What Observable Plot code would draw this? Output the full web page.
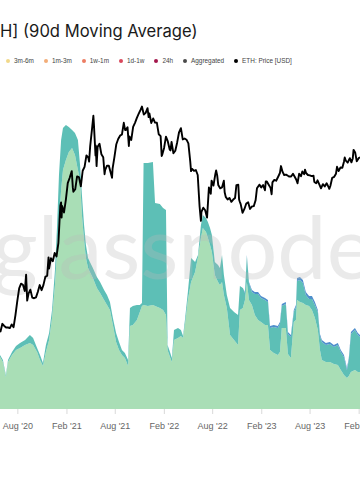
<!DOCTYPE html>
<html><head><meta charset="utf-8">
<script src="https://cdn.jsdelivr.net/npm/d3@7"></script>
<script src="https://cdn.jsdelivr.net/npm/@observablehq/plot@0.6"></script>
<style>
body{margin:0;background:#fff;width:360px;height:504px;overflow:hidden;position:relative;font-family:"Liberation Sans",Arial,sans-serif}
#title{position:absolute;left:0;top:20px;font-family:Inter,"Liberation Sans",sans-serif;font-size:16.6px;line-height:22px;color:#1a1a1a;white-space:nowrap}
#legend{position:absolute;left:6px;top:56px;display:flex;gap:10px;font-size:6.4px;line-height:10px;color:#444;align-items:center;white-space:nowrap}
.item{display:flex;align-items:center;gap:4px}
.dot{width:4px;height:4px;border-radius:50%}
#chart,#overlay{position:absolute;left:0;top:80px}
</style></head><body>
<div id="title"></div>
<div id="legend"></div>
<div id="chart"></div>
<div id="overlay"></div>
<script>
const titleText = "H] (90d Moving Average)";
const legendLabels = ["3m-6m","1m-3m","1w-1m","1d-1w","24h","Aggregated","ETH: Price [USD]"];
const legendColors = ["#f1d889","#f3ad78","#ec7d63","#d9475c","#a3164b","#4a4a4a","#000000"];

const tickDates = ["2020-08-01","2021-02-01","2021-08-01","2022-02-01","2022-08-01","2023-02-01","2023-08-01","2024-02-01"];
const xStart = "2020-05-28", xEnd = "2024-02-06";

const bandNames = ["band-green","band-teal","band-blue"];
const bandColors = ["#a9deb6","#5dbfb6","#4f8fcc"];

const bandDates = ["2020-05-28","2020-06-08","2020-06-19","2020-06-27","2020-07-12","2020-07-27","2020-08-11","2020-08-30","2020-09-17","2020-09-29",
"2020-10-14","2020-10-25","2020-11-05","2020-11-16","2020-11-28","2020-12-09","2020-12-20","2020-12-28","2021-01-04","2021-01-12",
"2021-01-19","2021-01-30","2021-02-10","2021-02-22","2021-03-05","2021-03-16","2021-03-24","2021-03-31","2021-04-08","2021-04-15",
"2021-04-23","2021-04-30","2021-05-11","2021-05-26","2021-06-07","2021-06-22","2021-07-03","2021-07-14","2021-07-25","2021-08-06",
"2021-08-17","2021-08-28","2021-09-08","2021-09-20","2021-09-27","2021-10-08","2021-10-23","2021-11-03","2021-11-11","2021-11-17",
"2021-12-03","2021-12-22","2021-12-30","2022-01-17","2022-01-29","2022-02-09","2022-02-15","2022-02-24","2022-03-03","2022-03-11",
"2022-03-26","2022-04-06","2022-04-14","2022-04-21","2022-05-02","2022-05-14","2022-05-29","2022-06-09","2022-06-20","2022-06-27",
"2022-07-09","2022-07-16","2022-07-24","2022-07-31","2022-08-11","2022-08-23","2022-08-30","2022-09-07","2022-09-14","2022-09-25",
"2022-10-07","2022-10-22","2022-11-06","2022-11-13","2022-11-24","2022-12-02","2022-12-09","2022-12-17","2022-12-28","2023-01-08",
"2023-01-20","2023-01-31","2023-02-15","2023-02-26","2023-03-06","2023-03-20","2023-04-04","2023-04-12","2023-04-19","2023-05-04",
"2023-05-12","2023-05-23","2023-06-03","2023-06-11","2023-06-15","2023-06-26","2023-07-07","2023-07-18","2023-07-30","2023-08-10",
"2023-08-21","2023-09-01","2023-09-09","2023-09-16","2023-10-01","2023-10-16","2023-10-31","2023-11-15","2023-11-26","2023-12-08",
"2023-12-19","2023-12-26","2024-01-03","2024-01-18","2024-01-29","2024-02-06"];

const greenBand = [52,47,32,47,54,59,61,64,66,64,
57,49,43,57,69,91,124,159,189,219,
239,249,257,261,254,239,229,194,169,151,
141,137,131,121,116,109,104,99,84,67,
59,54,51,43,83,84,89,97,103,104,
103,104,103,101,99,94,59,52,47,69,
71,73,71,84,109,127,137,152,171,181,
177,171,164,157,134,127,124,127,114,101,
74,69,64,99,101,109,127,109,104,94,
89,87,84,84,59,56,54,57,81,81,
55,51,87,89,109,107,106,104,103,99,
91,79,59,49,47,47,45,44,39,34,
31,33,37,39,37,37];

const tealBand = [2,2,2,2,3,4,5,5,8,7,
4,5,3,7,7,8,15,25,45,50,
42,35,25,18,22,30,15,20,15,13,
10,10,10,11,11,10,10,8,7,9,
8,5,5,6,18,19,15,7,3,142,
143,143,103,104,102,105,5,5,4,10,
10,6,2,5,8,24,10,2,13,13,
14,16,17,17,13,17,17,27,20,13,
27,28,30,24,20,7,26,17,13,21,
26,24,25,23,22,26,27,28,22,24,
20,21,10,13,19,22,20,10,7,11,
13,18,14,18,17,18,17,20,18,18,
8,16,38,40,37,35];

const blueBand = [0,0,0,0,0,0,0,0,0,0,
0,0,0,0,0,0,0,0,0,0,
0,0,0,0,0,0,0,0,0,0,
0,0,0,0,0,0,0,0,0,0,
0,0,0,0,0,0,0,0,0,0,
0,0,0,0,0,0,0,0,0,0,
0,0,0,0,0,0,0,0,0,0,
0,0,0,0,0,0,0,0,0,0,
0,0,0,0,0,1,1,1,2,2,
2,2,2,2,2,2,2,2,2,2,
2,2,2,2,3,3,3,3,3,3,
3,2,2,2,2,2,2,2,2,2,
2,2,2,2,2,2];

const priceDates = ["2020-05-28","2020-06-04","2020-06-11","2020-06-18","2020-06-25","2020-07-02","2020-07-09","2020-07-16","2020-07-23","2020-07-30",
"2020-08-06","2020-08-13","2020-08-20","2020-08-27","2020-09-01","2020-09-05","2020-09-10","2020-09-17","2020-09-24","2020-10-01",
"2020-10-08","2020-10-15","2020-10-22","2020-10-29","2020-11-05","2020-11-12","2020-11-19","2020-11-24","2020-11-26","2020-12-03",
"2020-12-10","2020-12-17","2020-12-24","2020-12-31","2021-01-07","2021-01-10","2021-01-12","2021-01-14","2021-01-21","2021-01-28",
"2021-02-04","2021-02-11","2021-02-19","2021-02-23","2021-02-25","2021-03-04","2021-03-11","2021-03-18","2021-03-25","2021-04-01",
"2021-04-08","2021-04-15","2021-04-22","2021-04-25","2021-04-29","2021-05-06","2021-05-11","2021-05-13","2021-05-19","2021-05-20",
"2021-05-23","2021-05-27","2021-06-03","2021-06-10","2021-06-17","2021-06-22","2021-06-24","2021-07-01","2021-07-08","2021-07-15",
"2021-07-20","2021-07-22","2021-07-29","2021-08-05","2021-08-12","2021-08-19","2021-08-26","2021-09-02","2021-09-07","2021-09-09",
"2021-09-16","2021-09-21","2021-09-23","2021-09-30","2021-10-07","2021-10-14","2021-10-21","2021-10-28","2021-11-04","2021-11-09",
"2021-11-16","2021-11-23","2021-11-30","2021-12-04","2021-12-07","2021-12-14","2021-12-21","2021-12-28","2022-01-04","2022-01-11",
"2022-01-18","2022-01-22","2022-01-24","2022-01-31","2022-02-07","2022-02-14","2022-02-21","2022-02-24","2022-02-28","2022-03-07",
"2022-03-14","2022-03-21","2022-03-28","2022-04-04","2022-04-11","2022-04-18","2022-04-25","2022-05-02","2022-05-09","2022-05-12",
"2022-05-16","2022-05-23","2022-05-30","2022-06-06","2022-06-13","2022-06-18","2022-06-20","2022-06-27","2022-07-04","2022-07-11",
"2022-07-18","2022-07-25","2022-07-28","2022-08-04","2022-08-11","2022-08-14","2022-08-18","2022-08-22","2022-08-29","2022-09-05",
"2022-09-12","2022-09-15","2022-09-19","2022-09-26","2022-10-03","2022-10-10","2022-10-17","2022-10-24","2022-10-29","2022-11-05",
"2022-11-08","2022-11-10","2022-11-14","2022-11-21","2022-11-28","2022-12-05","2022-12-12","2022-12-19","2022-12-26","2023-01-02",
"2023-01-09","2023-01-14","2023-01-23","2023-01-30","2023-02-06","2023-02-13","2023-02-16","2023-02-20","2023-02-27","2023-03-06",
"2023-03-10","2023-03-13","2023-03-20","2023-03-27","2023-04-03","2023-04-10","2023-04-14","2023-04-20","2023-04-26","2023-05-03",
"2023-05-10","2023-05-15","2023-05-22","2023-05-29","2023-06-05","2023-06-10","2023-06-15","2023-06-21","2023-06-28","2023-07-03",
"2023-07-10","2023-07-13","2023-07-17","2023-07-24","2023-07-31","2023-08-07","2023-08-14","2023-08-17","2023-08-24","2023-08-29",
"2023-09-05","2023-09-11","2023-09-18","2023-09-25","2023-10-02","2023-10-09","2023-10-12","2023-10-16","2023-10-23","2023-10-30",
"2023-11-06","2023-11-10","2023-11-16","2023-11-23","2023-11-30","2023-12-06","2023-12-09","2023-12-13","2023-12-20","2023-12-28",
"2024-01-03","2024-01-08","2024-01-11","2024-01-17","2024-01-23","2024-01-30","2024-02-06"];

const priceValues = [220,244,237,232,232,230,242,233,275,334,
396,422,416,382,477,335,368,389,349,346,
350,378,414,386,415,463,471,604,518,597,
573,641,612,737,1218,1280,1040,1218,1115,1330,
1665,1784,1960,1570,1480,1530,1825,1807,1592,1970,
2080,2430,2360,2230,2750,3490,4170,3720,2430,2780,
2100,2730,2850,2470,2370,1880,1990,2110,2110,1920,
1790,2030,2380,2830,3040,3180,3230,3790,3430,3430,
3570,2760,3150,3000,3590,3790,4050,4290,4530,4730,
4240,4340,4630,4100,4310,3780,4020,3800,3790,3240,
3160,2410,2450,2690,3140,2940,2630,2600,2920,2500,
2590,2900,3330,3520,3020,3060,3010,2860,2240,1960,
2020,1970,1990,1860,1210,995,1125,1190,1150,1040,
1570,1440,1720,1610,1880,1980,1850,1620,1550,1570,
1720,1470,1380,1330,1360,1290,1330,1360,1620,1630,
1330,1300,1250,1110,1170,1260,1280,1170,1210,1215,
1320,1550,1630,1570,1620,1510,1700,1700,1630,1560,
1430,1680,1740,1720,1810,1910,2100,1940,1860,1870,
1840,1820,1820,1890,1810,1750,1660,1890,1830,1950,
1880,2000,1910,1860,1850,1830,1840,1690,1660,1730,
1630,1550,1640,1590,1660,1580,1540,1600,1790,1810,
1890,2080,1960,2060,2050,2230,2360,2260,2200,2340,
2210,2330,2620,2530,2240,2340,2370];

// header
document.getElementById("title").textContent = titleText;
const legend = document.getElementById("legend");
legendLabels.forEach((lab, i) => {
  const it = document.createElement("div"); it.className = "item";
  const dot = document.createElement("span"); dot.className = "dot"; dot.style.background = legendColors[i];
  const tx = document.createElement("span"); tx.textContent = lab;
  it.appendChild(dot); it.appendChild(tx); legend.appendChild(it);
});

const parse = d3.utcParse("%Y-%m-%d");
const xDomain = [parse(xStart), parse(xEnd)];
const bandSeries = [greenBand, tealBand, blueBand];
const bandRows = [];
bandDates.forEach((d, i) => {
  bandNames.forEach((b, j) => bandRows.push({date: parse(d), band: b, value: bandSeries[j][i]}));
});
const priceRows = priceDates.map((d, i) => ({date: parse(d), price: priceValues[i]}));
const fmt = d3.utcFormat("%b '%y");

const areaPlot = Plot.plot({
  width: 360, height: 360, marginTop: 0, marginBottom: 31, marginLeft: 0, marginRight: 0,
  x: {type: "utc", domain: xDomain},
  y: {domain: [0, 329], axis: null},
  color: {domain: bandNames, range: bandColors},
  style: {fontFamily: "'Liberation Sans', Arial, sans-serif", background: "white", overflow: "visible"},
  marks: [
    Plot.areaY(bandRows, {x: "date", y: "value", fill: "band", order: bandNames, clip: true}),
    Plot.text(["glassnode"], {text: d => d, frameAnchor: "middle", fontSize: 88, fontFamily: "Lato", fill: "#b9b9b9", fillOpacity: 0.3, dx: 2, dy: 6}),
    Plot.axisX(tickDates.map(parse), {tickFormat: d => fmt(d), tickSize: 5, tickPadding: 8, stroke: "#d9d9d9", fill: "#666", fontSize: 9})
  ]
});
document.getElementById("chart").appendChild(areaPlot);

const linePlot = Plot.plot({
  width: 360, height: 360, marginTop: 0, marginBottom: 31, marginLeft: 0, marginRight: 0,
  x: {type: "utc", domain: xDomain, axis: null},
  y: {type: "log", domain: [75.8, 6751], axis: null},
  style: {background: "transparent", overflow: "visible"},
  marks: [
    Plot.lineY(priceRows, {x: "date", y: "price", stroke: "#000", strokeWidth: 1.9, clip: true})
  ]
});
document.getElementById("overlay").appendChild(linePlot);
</script>
</body></html>
